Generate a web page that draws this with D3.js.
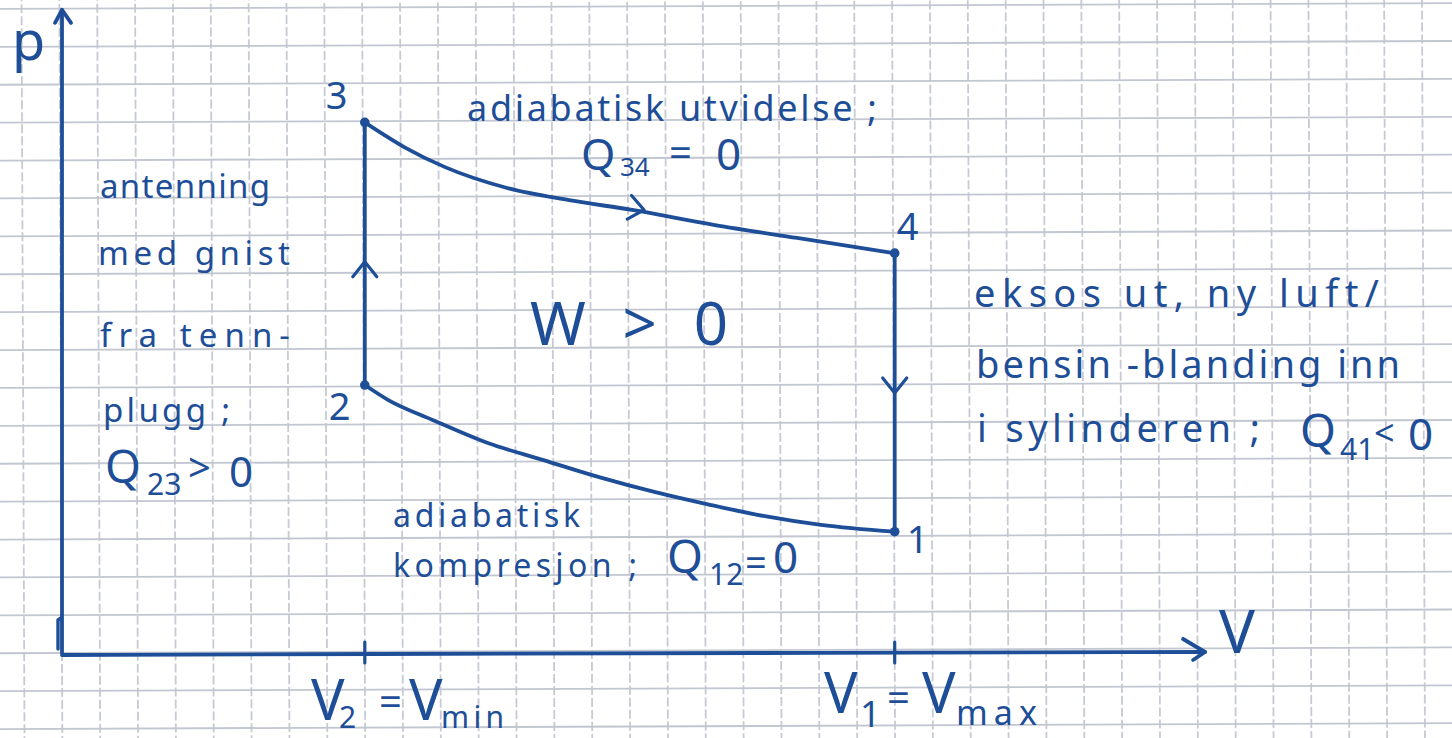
<!DOCTYPE html>
<html>
<head>
<meta charset="utf-8">
<script src="https://cdn.jsdelivr.net/npm/d3@7"></script>
<style>
  html, body { margin: 0; padding: 0; background: #ffffff; }
  svg { display: block; }
  text { font-family: "Noto Sans", "DejaVu Sans", sans-serif; fill: #1d4e97; }
</style>
</head>
<body>
<svg id="chart" width="1452" height="738"></svg>
<script>
// Otto cycle in a p–V diagram, volume and pressure in grid squares.

// State points 1–4
const stateNames = ["1", "2", "3", "4"];
const stateV = [22, 8, 8, 22];
const stateP = [3.2, 7.07, 14, 10.55];

// Adiabatic expansion 3 → 4
const expansionV = [8, 9.04, 10.12, 11.76, 13.4, 15.06, 17.25, 19.42, 22];
const expansionP = [14, 13.35, 12.82, 12.27, 11.95, 11.69, 11.29, 10.95, 10.55];

// Adiabatic compression 1 → 2 (listed from V2 to V1)
const compressionV = [8, 8.61, 9.79, 11.25, 12.72, 14.19, 15.65, 17.12, 18.57, 20.05, 22];
const compressionP = [7.07, 6.68, 6.15, 5.54, 5.09, 4.64, 4.25, 3.91, 3.61, 3.38, 3.2];

// Volume ticks on the V axis
const tickV = [8, 22];
const tickSub = ["2", "1"];
const tickSub2 = ["min", "max"];

// Direction markers along the cycle: position and heading
const dirV = [8, 15.38, 22];
const dirP = [10.32, 11.69, 6.86];
const dirHeading = ["up", "curve", "down"];

// Axis extents
const vAxisEnd = 30.2;
const pAxisEnd = 16.97;

const ink = "#1d4e97";
const svg = d3.select("#chart");

const x = d3.scaleLinear().domain([0, 30]).range([62, 62 + 30 * 37.85]);
const y = d3.scaleLinear().domain([0, 17]).range([653, 653 - 17 * 37.9]);

// ---- squared paper ----
const grid = svg.append("g")
  .attr("transform", `rotate(-0.23, ${x(0)}, ${y(0)})`);
const gridV = d3.range(-2, 38);
const gridH = d3.range(-3, 19);
grid.selectAll("line.gv").data(gridV).join("line")
  .attr("x1", d => x(d)).attr("x2", d => x(d))
  .attr("y1", -20).attr("y2", 760)
  .attr("stroke", "#c6cad4").attr("stroke-width", 1.8)
  .attr("stroke-dasharray", "9,3");
grid.selectAll("line.gh").data(gridH).join("line")
  .attr("y1", d => y(d)).attr("y2", d => y(d))
  .attr("x1", -20).attr("x2", 1480)
  .attr("stroke", "#c2c6d0").attr("stroke-width", 1.8);

const g = svg.append("g")
  .attr("fill", "none").attr("stroke", ink)
  .attr("stroke-width", 3.8).attr("stroke-linecap", "round").attr("stroke-linejoin", "round");

// ---- axes ----
g.append("line").attr("x1", x(0)).attr("y1", y(0)).attr("x2", x(0)).attr("y2", y(pAxisEnd));
g.append("path").attr("d", d3.line()([[x(0) - 7, y(pAxisEnd) + 13], [x(0), y(pAxisEnd)], [x(0) + 9, y(pAxisEnd) + 13]]));
g.append("path").attr("d", d3.line().curve(d3.curveBasis)(
  [[x(0), y(0) + 2], [x(8), y(0) + 1], [x(18), y(0)], [x(vAxisEnd), y(0) - 1]]));
g.append("path").attr("d", d3.line()([[x(vAxisEnd) - 22, y(0) - 14], [x(vAxisEnd), y(0) - 1], [x(vAxisEnd) - 12, y(0) + 7]]));
// pen mark at the origin
g.append("path").attr("stroke-width", 3.4)
  .attr("d", d3.line()([[x(0) - 4, y(0) - 4], [x(0) - 4, y(0) - 33], [x(0) - 1, y(0) - 35]]));

// volume ticks
g.selectAll("line.tick").data(tickV).join("line")
  .attr("x1", d => x(d)).attr("x2", d => x(d))
  .attr("y1", y(0) - 11).attr("y2", y(0) + 10).attr("stroke-width", 3.2);

// ---- the cycle ----
const line = d3.line().x(d => x(d[0])).y(d => y(d[1])).curve(d3.curveMonotoneX);
g.append("path").attr("d", line(expansionV.map((v, i) => [v, expansionP[i]])));
g.append("path").attr("d", line(compressionV.map((v, i) => [v, compressionP[i]])));
// isochoric steps 2 → 3 and 4 → 1
g.append("line").attr("x1", x(stateV[1])).attr("y1", y(stateP[1])).attr("x2", x(stateV[2])).attr("y2", y(stateP[2]));
g.append("line").attr("x1", x(stateV[3])).attr("y1", y(stateP[3])).attr("x2", x(stateV[0])).attr("y2", y(stateP[0]));

// direction chevrons
const curveAt = (v) => {
  const i = d3.bisectRight(expansionV, v) - 1;
  const a = [x(expansionV[i]), y(expansionP[i])], b = [x(expansionV[i + 1]), y(expansionP[i + 1])];
  return Math.atan2(b[1] - a[1], b[0] - a[0]) * 180 / Math.PI;
};
dirV.forEach((v, i) => {
  const ang = dirHeading[i] === "up" ? -90 : dirHeading[i] === "down" ? 90 : curveAt(v);
  g.append("path")
    .attr("transform", `translate(${x(v)},${y(dirP[i])}) rotate(${ang})`)
    .attr("d", d3.line()([[-15, -12], [0, 0], [-15, 12]]))
    .attr("stroke-width", 3.2);
});

// state dots
svg.selectAll("circle.state").data(stateNames).join("circle")
  .attr("cx", (d, i) => x(stateV[i])).attr("cy", (d, i) => y(stateP[i]))
  .attr("r", 4.8).attr("fill", ink);

// state numbers
const stateOffset = [[12, 21], [-36, 35], [-39, -13], [2, -13]];
svg.selectAll("text.state").data(stateNames).join("text")
  .attr("x", (d, i) => x(stateV[i]) + stateOffset[i][0])
  .attr("y", (d, i) => y(stateP[i]) + stateOffset[i][1])
  .attr("font-size", 38).text(d => d);

// ---- text helpers ----
function label(str, x0, base, size, width) {
  const t = svg.append("text").attr("x", x0).attr("y", base).attr("font-size", size).text(str);
  if (width) t.attr("textLength", width).attr("lengthAdjust", "spacing");
  return t;
}
// a formula as one text element whose pieces are placed one by one:
// [text, x, baseline, size, width?]
function formula(pieces) {
  const t = svg.append("text");
  pieces.forEach(p => {
    const s = t.append("tspan").attr("x", p[1]).attr("y", p[2]).attr("font-size", p[3]).text(p[0]);
    if (p[4]) s.attr("textLength", p[4]).attr("lengthAdjust", "spacing");
  });
  return t;
}

// axis names
label("p", 12, 60, 54);
label("V", 1219, 653, 60);

// volume tick labels
formula([["V", 311, 720, 56], [tickSub[0], 339, 728, 30], ["=", 379, 716, 40],
         ["V", 409, 720, 56], [tickSub2[0], 441, 728, 30, 63]]);
formula([["V", 824, 713, 56], [tickSub[1], 860, 727, 36], ["=", 887, 712, 40],
         ["V", 922, 713, 56], [tickSub2[1], 956, 725, 34, 81]]);

// process 3 → 4
label("adiabatisk utvidelse ;", 467, 121, 36, 410);
formula([["Q", 581, 170, 44], ["34", 620, 176, 26], ["=", 669, 167, 40], ["0", 716, 170, 44]]);

// process 2 → 3
["antenning", "med gnist", "fra tenn-", "plugg ;"].forEach((s, i) => {
  const bx = [100, 98, 100, 103][i], by = [198, 265, 347, 422][i], w = [170, 192, 190, 127][i];
  label(s, bx, by, 33, w);
});
formula([["Q", 105, 483, 46], ["23", 147, 495, 30], [">", 188, 482, 40], ["0", 229, 487, 42]]);

label("W > 0", 530, 345, 60, 198);

// process 4 → 1
label("eksos ut, ny luft/", 974, 307, 38, 405);
label("bensin -blanding inn", 976, 378, 38, 424);
label("i sylinderen ;", 977, 442, 38, 283);
formula([["Q", 1300, 447, 46], ["41", 1340, 460, 30], ["<", 1374, 446, 36], ["0", 1408, 450, 44]]);

// process 1 → 2
label("adiabatisk", 393, 527, 32, 187);
label("kompresjon ;", 393, 577, 32, 244);
formula([["Q", 667, 573, 46], ["12", 709, 585, 30], ["=", 745, 576, 38], ["0", 773, 573, 44]]);
</script>
</body>
</html>
